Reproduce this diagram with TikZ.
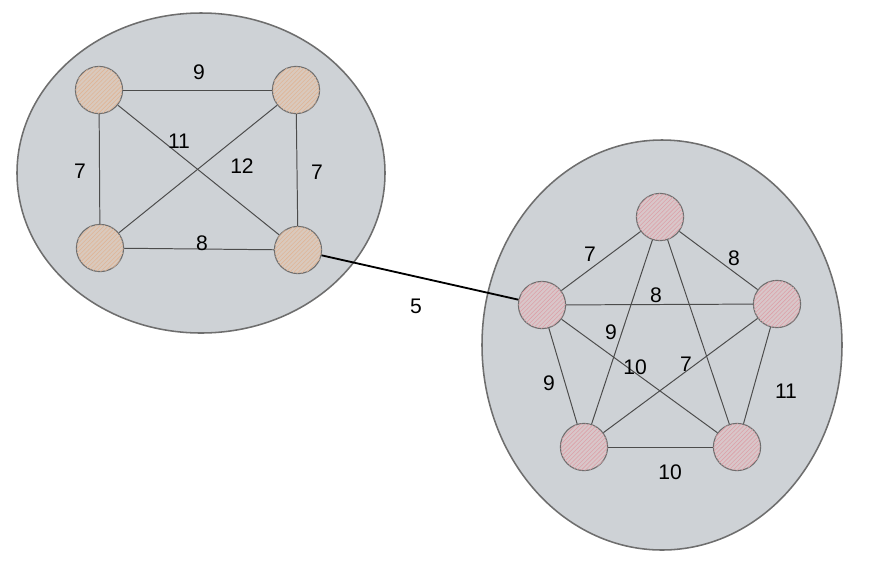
\documentclass[tikz,border=0pt]{standalone}
\usepackage{fontspec}
\setmainfont{Liberation Sans}
\usetikzlibrary{patterns}

\definecolor{cloud}{HTML}{CED2D6}
\definecolor{rim}{HTML}{6E6E6E}
\definecolor{tan}{HTML}{D9C9BD}
\definecolor{tanline}{HTML}{E0B596}
\definecolor{rose}{HTML}{D8C6C9}
\definecolor{roseline}{HTML}{DDA0A8}

\begin{document}
\begin{tikzpicture}[
  x=0.025cm, y=-0.025cm,
  cluster/.style={draw=rim, fill=cloud, line width=1.1pt},
  vtx/.style={
    circle,
    minimum size=1.18cm,
    inner sep=0pt,
    draw=rim,
    line width=0.8pt,
    fill=#1,
    postaction={pattern=north east lines, pattern color=#1line}
  },
  link/.style={draw=black!70, line width=0.7pt},
  wt/.style={font=\fontsize{15}{17}\selectfont, inner sep=1pt}
]
\useasboundingbox (0,0) rectangle (876,562);

% Clusters
\draw[cluster] (201,173) ellipse [x radius=184, y radius=160];
\draw[cluster] (662,345) ellipse [x radius=180, y radius=205];

% Left group
\node[vtx=tan] (a) at (99,90) {};
\node[vtx=tan] (b) at (296,90) {};
\node[vtx=tan] (c) at (100,248) {};
\node[vtx=tan] (d) at (298,250) {};

% Right group
\node[vtx=rose] (p) at (660,217) {};
\node[vtx=rose] (q) at (542,305) {};
\node[vtx=rose] (r) at (777,304) {};
\node[vtx=rose] (s) at (584,447) {};
\node[vtx=rose] (t) at (737,447) {};

% Edges, left
\draw[link] (a) -- (b);
\draw[link] (a) -- (c);
\draw[link] (b) -- (d);
\draw[link] (c) -- (d);
\draw[link] (a) -- (d);
\draw[link] (b) -- (c);

% Edges, right
\draw[link] (p) -- (q);
\draw[link] (p) -- (r);
\draw[link] (p) -- (s);
\draw[link] (p) -- (t);
\draw[link] (q) -- (r);
\draw[link] (q) -- (s);
\draw[link] (q) -- (t);
\draw[link] (r) -- (s);
\draw[link] (r) -- (t);
\draw[link] (s) -- (t);

% Bridge
\draw[line width=1.3pt] (d) -- (q);

% Weights
\node[wt] (wab) at (199,72) {9};
\node[wt] (wac) at (80,171) {7};
\node[wt] (wbd) at (317,172) {7};
\node[wt] (wad) at (179,141) {11};
\node[wt] (wbc) at (242,166) {12};
\node[wt] (wcd) at (202,243) {8};
\node[wt] (wdq) at (416,306) {5};
\node[wt] (wpq) at (590,254) {7};
\node[wt] (wpr) at (734,258) {8};
\node[wt] (wqr) at (656,295) {8};
\node[wt] (wps) at (611,332) {9};
\node[wt] (wqt) at (635,367) {10};
\node[wt] (wrs) at (686,364) {7};
\node[wt] (wqs) at (549,383) {9};
\node[wt] (wrt) at (786,391) {11};
\node[wt] (wst) at (670,472) {10};

\end{tikzpicture}
\end{document}
